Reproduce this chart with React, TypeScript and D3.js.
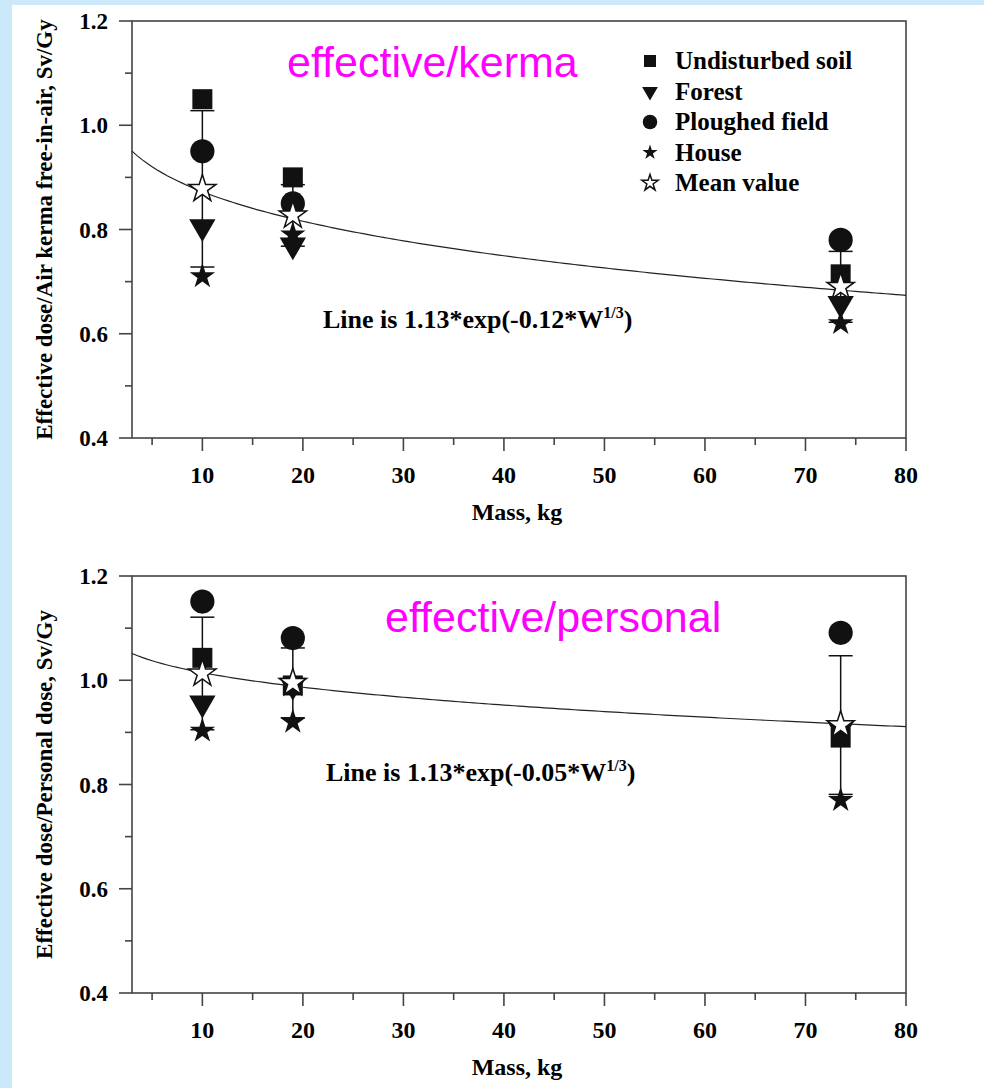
import React from "react";
import * as d3 from "d3";

// mass groups (kg) where the phantoms were evaluated
const masses = [10, 19, 73.5];

// effective dose / air kerma free-in-air
const kermaUndisturbed = [1.05, 0.9, 0.714];
const kermaForest = [0.805, 0.77, 0.658];
const kermaPloughed = [0.95, 0.85, 0.78];
const kermaHouse = [0.71, 0.79, 0.62];
const kermaMean = [0.878, 0.827, 0.69];
const kermaErr = [0.15, 0.059, 0.068];

// effective dose / personal dose
const personalUndisturbed = [1.043, 0.99, 0.89];
const personalForest = [0.956, 0.99, 0.906];
const personalPloughed = [1.151, 1.081, 1.091];
const personalHouse = [0.903, 0.92, 0.77];
const personalMean = [1.013, 0.995, 0.914];
const personalErr = [0.108, 0.067, 0.133];

// fitted line: A*exp(-k*W^(1/3))
const fitA = 1.13;
const kermaK = 0.12;
const personalK = 0.05;

const xMajor = [10, 20, 30, 40, 50, 60, 70, 80];
const xMinor = [5, 15, 25, 35, 45, 55, 65, 75];
const yMajor = [0.4, 0.6, 0.8, 1.0, 1.2];
const yMinor = [0.5, 0.7, 0.9, 1.1];

const legendLabels = ["Undisturbed soil", "Forest", "Ploughed field", "House", "Mean value"];

const serif = "'Liberation Serif', 'Times New Roman', serif";
const sans = "'Liberation Sans', Arial, sans-serif";
const axisColor = "#444";

const X0 = 132;
const X1 = 906;

type Kind = "square" | "forest" | "circle" | "house" | "mean";

const markerPath = (kind: Kind, small = false) => {
  const f = small ? 0.36 : 1;
  switch (kind) {
    case "square":
      return d3.symbol(d3.symbolSquare, 400 * f)()!;
    case "forest":
      return d3.symbol(d3.symbolTriangle, 300 * f)()!;
    case "circle":
      return d3.symbol(d3.symbolCircle, 460 * f)()!;
    case "house":
      return d3.symbol(d3.symbolStar, 200 * f)()!;
    case "mean":
      return d3.symbol(d3.symbolStar, 230 * f)()!;
  }
};

const Marker = ({ kind, x, y, small }: { kind: Kind; x: number; y: number; small?: boolean }) => (
  <path
    d={markerPath(kind, small)}
    transform={`translate(${x},${y})${kind === "forest" ? " rotate(180)" : ""}`}
    fill={kind === "mean" ? "#fff" : "#111"}
    stroke={kind === "mean" ? "#111" : "none"}
    strokeWidth={kind === "mean" ? 1.5 : 0}
  />
);

type PanelProps = {
  top: number;
  bottom: number;
  yLabel: string;
  series: { kind: Kind; values: number[] }[];
  mean: number[];
  err: number[];
  k: number;
  note: string;
  noteX: number;
  noteY: number;
  tag: string;
  tagX: number;
  tagY: number;
  legend?: boolean;
};

const Panel = (p: PanelProps) => {
  const x = d3.scaleLinear().domain([3, 80]).range([X0, X1]);
  const y = d3.scaleLinear().domain([0.4, 1.2]).range([p.bottom, p.top]);

  const curvePts = d3.range(3, 80.01, 0.5).map((w) => [w, fitA * Math.exp(-p.k * Math.cbrt(w))] as [number, number]);
  const line = d3
    .line<[number, number]>()
    .x((d) => x(d[0]))
    .y((d) => y(d[1]));

  return (
    <g>
      {/* frame */}
      <rect x={X0} y={p.top} width={X1 - X0} height={p.bottom - p.top} fill="none" stroke={axisColor} strokeWidth={1.6} />
      {/* y ticks */}
      {yMajor.map((v) => (
        <g key={"ym" + v}>
          <line x1={X0 - 13} x2={X0} y1={y(v)} y2={y(v)} stroke={axisColor} strokeWidth={1.6} />
          <text x={X0 - 24} y={y(v) + 8} textAnchor="end" fontFamily={serif} fontWeight="bold" fontSize={23}>
            {v.toFixed(1)}
          </text>
        </g>
      ))}
      {yMinor.map((v) => (
        <line key={"yn" + v} x1={X0 - 7} x2={X0} y1={y(v)} y2={y(v)} stroke={axisColor} strokeWidth={1.6} />
      ))}
      {/* x ticks */}
      {xMajor.map((v) => (
        <g key={"xm" + v}>
          <line x1={x(v)} x2={x(v)} y1={p.bottom} y2={p.bottom + 13} stroke={axisColor} strokeWidth={1.6} />
          <text x={x(v)} y={p.bottom + 45} textAnchor="middle" fontFamily={serif} fontWeight="bold" fontSize={24}>
            {v}
          </text>
        </g>
      ))}
      {xMinor.map((v) => (
        <line key={"xn" + v} x1={x(v)} x2={x(v)} y1={p.bottom} y2={p.bottom + 7} stroke={axisColor} strokeWidth={1.6} />
      ))}
      <text x={517} y={p.bottom + 82} textAnchor="middle" fontFamily={serif} fontWeight="bold" fontSize={24}>
        Mass, kg
      </text>
      <text
        transform={`translate(52,${(p.top + p.bottom) / 2}) rotate(-90)`}
        textAnchor="middle"
        fontFamily={serif}
        fontWeight="bold"
        fontSize={23}
      >
        {p.yLabel}
      </text>

      {/* error bars of the mean */}
      {masses.map((m, i) => (
        <g key={"e" + i} stroke="#111" strokeWidth={1.5}>
          <line x1={x(m)} x2={x(m)} y1={y(p.mean[i] + p.err[i])} y2={y(p.mean[i] - p.err[i])} />
          <line x1={x(m) - 12} x2={x(m) + 12} y1={y(p.mean[i] + p.err[i])} y2={y(p.mean[i] + p.err[i])} />
          <line x1={x(m) - 12} x2={x(m) + 12} y1={y(p.mean[i] - p.err[i])} y2={y(p.mean[i] - p.err[i])} />
        </g>
      ))}

      {/* markers */}
      {p.series.map((s) =>
        s.values.map((v, i) => <Marker key={s.kind + i} kind={s.kind} x={x(masses[i])} y={y(v)} />)
      )}

      <path d={line(curvePts)!} fill="none" stroke="#222" strokeWidth={1.2} />

      {p.mean.map((v, i) => (
        <Marker key={"mean" + i} kind="mean" x={x(masses[i])} y={y(v)} />
      ))}

      <text x={p.noteX} y={p.noteY} fontFamily={serif} fontWeight="bold" fontSize={26}>
        {p.note}
        <tspan fontSize={16} dy={-10}>1/3</tspan>
        <tspan dy={10}>)</tspan>
      </text>

      <text x={p.tagX} y={p.tagY} fontFamily={sans} fontSize={43} fill="#ff00ff">
        {p.tag}
      </text>

      {p.legend &&
        legendLabels.map((lab, i) => {
          const ly = 61 + i * 30.5;
          const kinds: Kind[] = ["square", "forest", "circle", "house", "mean"];
          return (
            <g key={lab}>
              <Marker kind={kinds[i]} x={650} y={ly} small />
              <text x={675} y={ly + 8} fontFamily={serif} fontWeight="bold" fontSize={25}>
                {lab}
              </text>
            </g>
          );
        })}
    </g>
  );
};

export default function App() {
  return (
    <svg width={984} height={1088} style={{ position: "absolute", left: 0, top: 0 }}>
      <rect width={984} height={1088} fill="#cce9fc" />
      <rect x={12} y={5} width={972} height={1083} fill="#fff" />
      <Panel
        top={21}
        bottom={438}
        yLabel="Effective dose/Air kerma free-in-air, Sv/Gy"
        series={[
          { kind: "circle", values: kermaPloughed },
          { kind: "square", values: kermaUndisturbed },
          { kind: "forest", values: kermaForest },
          { kind: "house", values: kermaHouse },
        ]}
        mean={kermaMean}
        err={kermaErr}
        k={kermaK}
        note="Line is 1.13*exp(-0.12*W"
        noteX={323}
        noteY={328}
        tag="effective/kerma"
        tagX={287}
        tagY={77}
        legend
      />
      <Panel
        top={576}
        bottom={993}
        yLabel="Effective dose/Personal dose, Sv/Gy"
        series={[
          { kind: "circle", values: personalPloughed },
          { kind: "forest", values: personalForest },
          { kind: "square", values: personalUndisturbed },
          { kind: "house", values: personalHouse },
        ]}
        mean={personalMean}
        err={personalErr}
        k={personalK}
        note="Line is 1.13*exp(-0.05*W"
        noteX={326}
        noteY={781}
        tag="effective/personal"
        tagX={385}
        tagY={632}
      />
    </svg>
  );
}
